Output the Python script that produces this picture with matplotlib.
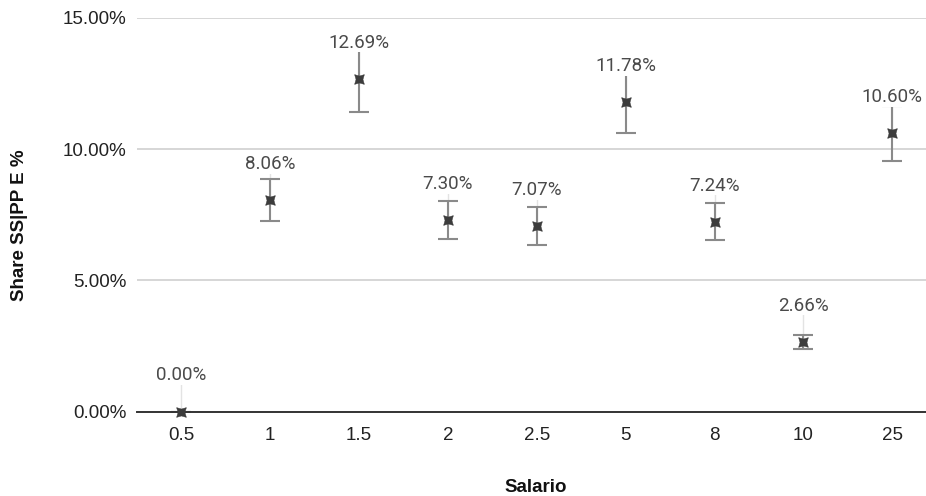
import numpy as np
import matplotlib.pyplot as plt
from matplotlib.ticker import FuncFormatter

# salary brackets and share of SS|PP E (percent), with error half-widths
salario = ["0.5", "1", "1.5", "2", "2.5", "5", "8", "10", "25"]
share = [0.00, 8.06, 12.69, 7.30, 7.07, 11.78, 7.24, 2.66, 10.60]
err = [0.00, 0.81, 1.27, 0.73, 0.71, 1.18, 0.72, 0.27, 1.06]

fig = plt.figure(figsize=(9.26, 4.96), dpi=100)
ax = fig.add_axes([137 / 926, 1 - 411.5 / 496, 1 - 137 / 926, (411.5 - 18) / 496])

x = np.arange(len(salario))
y = np.array(share)

ax.errorbar(x, y, yerr=err, fmt="none", ecolor="#8a8a8a", elinewidth=1.5,
            capsize=7.5, capthick=1.5, zorder=3)
ax.plot(x, y, linestyle="none", marker=(4, 1, 45), markersize=10,
        color="#3c3c3c", markeredgewidth=0.3, zorder=4, clip_on=False)

# data labels sit a fixed distance above each point, with a faint leader line
label_off = 36 / 26.23
for xi, yi in zip(x, y):
    ax.plot([xi, xi], [yi, yi + label_off - 0.25], color="#e3e3e3", lw=1, zorder=2)
    ax.text(xi, yi + label_off, f"{yi:.2f}%", ha="center", va="center",
            fontsize=13.5, family="Roboto", color="#4a4a4a", zorder=5,
            bbox=dict(facecolor="white", edgecolor="none", pad=0.5))

ax.set_xlim(-0.5, 8.38)
ax.set_ylim(0, 15)
ax.set_yticks([0, 5, 10, 15])
ax.yaxis.set_major_formatter(FuncFormatter(lambda v, _: f"{v:.2f}%"))
ax.set_xticks(x)
ax.set_xticklabels(salario)

ax.grid(axis="y", color="#d3d3d3", linewidth=1.3, zorder=0)
ax.set_axisbelow(True)
for side in ["top", "right", "left"]:
    ax.spines[side].set_visible(False)
ax.spines["bottom"].set_color("#333333")
ax.spines["bottom"].set_linewidth(1.4)
ax.spines["bottom"].set_zorder(3)

ax.tick_params(axis="both", length=0, labelsize=13.5, colors="#222222")
ax.tick_params(axis="y", pad=7.5)
ax.tick_params(axis="x", pad=11)
for lab in ax.get_xticklabels() + ax.get_yticklabels():
    lab.set_family("Liberation Sans")

fig.text(536 / 926, 1 - 487 / 496, "Salario", ha="center", va="center",
         fontsize=13.5, fontweight="bold", family="Liberation Sans", color="#111111")
fig.text(20 / 926, 1 - 225 / 496, "Share SS|PP E %", ha="center", va="center",
         rotation=90, fontsize=13.5, fontweight="bold", family="Liberation Sans",
         color="#111111")

fig.savefig("out.png", dpi=100)
